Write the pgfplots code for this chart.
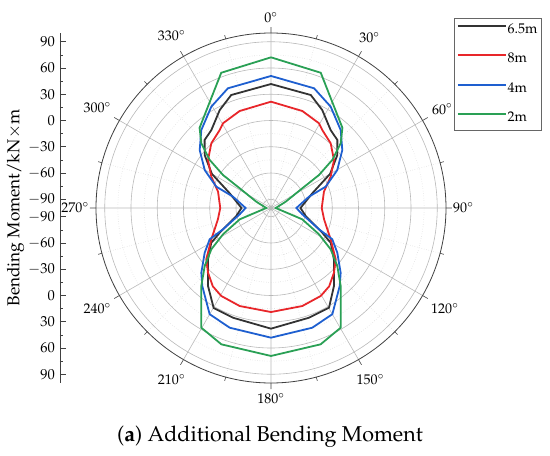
\documentclass[border=0pt]{standalone}
\usepackage[T1]{fontenc}
\usepackage{mathpazo}
\usepackage{pgfplots}
\pgfplotsset{compat=1.18}
\usepackage{pgfplotstable}
\usepgfplotslibrary{polar}

\definecolor{cblack}{HTML}{333333}
\definecolor{cred}{HTML}{E8262A}
\definecolor{cblue}{HTML}{1E5FD0}
\definecolor{cgreen}{HTML}{2AA055}

\pgfplotstableread{
t v
0 41.7
19.4 36.9
27.6 26.4
37.4 12.2
44.3 8.6
51.4 -3
60 -22
70.4 -49.9
90 -66.3
103 -59.3
115.7 -35
120.2 -21
129.2 -7.2
141.1 14.6
149.8 31.8
160.9 32.7
180 37.9
199.1 32.7
209.8 31.8
218.9 14.6
230.8 -7.2
239.8 -21
244.3 -35
257 -59.3
270 -66.3
289.6 -49.9
300 -22
308.6 -3
315.7 8.6
322.6 12.2
332.4 26.4
340.6 36.9
360 41.7
}\tblack

\pgfplotstableread{
t v
0 21.5
17.9 16.5
29.5 11.3
33.3 6.7
42.7 0.6
52.7 -9.5
62.3 -23
72.9 -36.7
90 -42
102 -38
117.7 -23
128.4 -5.6
135.8 3.2
143.4 11.5
150.5 15.5
162.3 17.6
180 18.9
197.7 17.6
209.5 15.5
216.6 11.5
224.2 3.2
231.6 -5.6
242.3 -23
258 -38
270 -42
287.1 -36.7
297.7 -23
307.3 -9.5
317.3 0.6
326.7 6.7
330.5 11.3
342.1 16.5
360 21.5
}\tred

\pgfplotstableread{
t v
0 50.9
19.8 45.4
30.5 34.4
41.8 19.5
50.9 5
60.2 -12.7
68.7 -32.9
73.4 -54.7
90 -71
101.4 -63.5
113.9 -40
117 -21.4
124 -8.6
132.9 8.7
138.6 18.8
150 40.2
161 44.7
180 48.2
199 44.7
210 40.2
221.4 18.8
227.1 8.7
236 -8.6
243 -21.4
246.1 -40
258.6 -63.5
270 -71
286.6 -54.7
291.3 -32.9
299.8 -12.7
309.1 5
318.2 19.5
329.5 34.4
340.2 45.4
360 50.9
}\tblue

\pgfplotstableread{
t v
0 72.2
20.2 64.7
41.7 22.7
47.1 8.7
51.9 -11
55.5 -33.5
57.8 -57.7
66.8 -81.7
90 -94.6
109.9 -62
118.7 -37.5
124.7 -17
131.2 0.7
138.2 19.5
149.8 58.3
160 65.8
180 69.1
200 65.8
210.2 58.3
221.8 19.5
228.8 0.7
235.3 -17
241.3 -37.5
250.1 -62
270 -94.6
293.2 -81.7
302.2 -57.7
304.5 -33.5
308.1 -11
312.9 8.7
318.3 22.7
339.8 64.7
360 72.2
}\tgreen

\begin{document}
\begin{tikzpicture}
\useasboundingbox (0pt,0pt) rectangle (550pt,456pt);

% left radial scale
\begin{axis}[
  at={(60pt,248pt)}, anchor=west,
  scale only axis, width=10pt, height=350pt,
  xmin=0, xmax=1, ymin=-200, ymax=200,
  axis x line=none, axis y line*=left,
  axis line style={draw=black!75, line width=0.8pt},
  ytick={-190,-160,-130,-100,-70,-40,-10,10,40,70,100,130,160,190},
  yticklabels={$90$,$60$,$30$,$0$,$-30$,$-60$,$-90$,$-90$,$-60$,$-30$,$0$,$30$,$60$,$90$},
  minor ytick={-175,-145,-115,-85,-55,-25,25,55,85,115,145,175},
  tick align=inside, major tick length=6pt, minor tick length=3.5pt,
  y tick style={draw=black!75, line width=0.7pt},
  yticklabel style={font=\fontsize{14.5}{16}\selectfont, inner sep=1pt, xshift=-4pt},
  ylabel={Bending Moment/kN$\times$m},
  ylabel style={at={(axis description cs:-4.45,0.5)}, anchor=center, font=\fontsize{17.2}{20}\selectfont},
]
\end{axis}

\begin{polaraxis}[
  at={(271pt,248pt)}, anchor=center,
  scale only axis, width=350pt, height=350pt,
  xmin=0, xmax=360, ymin=0, ymax=200,
  xtick={0,30,...,330},
  xticklabels={$90^{\circ}$,$60^{\circ}$,$30^{\circ}$,$0^{\circ}$,$330^{\circ}$,$300^{\circ}$,$270^{\circ}$,$240^{\circ}$,$210^{\circ}$,$180^{\circ}$,$150^{\circ}$,$120^{\circ}$},
  minor xtick={15,45,...,345},
  ytick={10,40,70,100,130,160,190},
  minor ytick={25,55,85,115,145,175},
  yticklabels={},
  xmajorgrids, xminorgrids, ymajorgrids, yminorgrids,
  major grid style={draw=gray!55, line width=0.6pt},
  minor grid style={draw=gray!35, dotted, line width=0.6pt},
  axis line style={draw=black!75, line width=0.8pt},
  y axis line style={draw=none},
  tick align=inside, major tick length=6pt, minor tick length=4pt,
  x tick style={draw=black!75, line width=0.6pt},
  y tick style={draw=none},
  xticklabel style={font=\fontsize{14}{16}\selectfont, inner xsep=7pt, inner ysep=10pt},
  legend style={at={(1.274,1.043)}, anchor=north east, draw=black!60, line width=0.6pt,
     font=\fontsize{14}{16}\selectfont, inner xsep=3pt, inner ysep=4.5pt, row sep=15pt,
     nodes={inner sep=1pt, text height=9.5pt, text depth=3pt}},
  legend cell align=left,
  legend image code/.code={\draw[#1, line width=1.8pt, line cap=butt] (0pt,4.2pt) -- (48pt,4.2pt);},
]
\addplot[cblack, line width=1.8pt] table[x expr={90-\thisrow{t}}, y expr={\thisrow{v}+100}] {\tblack};
\addlegendentry{6.5m}
\addplot[cred, line width=1.8pt] table[x expr={90-\thisrow{t}}, y expr={\thisrow{v}+100}] {\tred};
\addlegendentry{8m}
\addplot[cblue, line width=1.8pt] table[x expr={90-\thisrow{t}}, y expr={\thisrow{v}+100}] {\tblue};
\addlegendentry{4m}
\addplot[cgreen, line width=1.8pt] table[x expr={90-\thisrow{t}}, y expr={\thisrow{v}+100}] {\tgreen};
\addlegendentry{2m}
\end{polaraxis}

\node[font=\fontsize{21.5}{25}\selectfont] at (270pt,19pt) {(\textbf{a}) Additional Bending Moment};
\end{tikzpicture}
\end{document}
